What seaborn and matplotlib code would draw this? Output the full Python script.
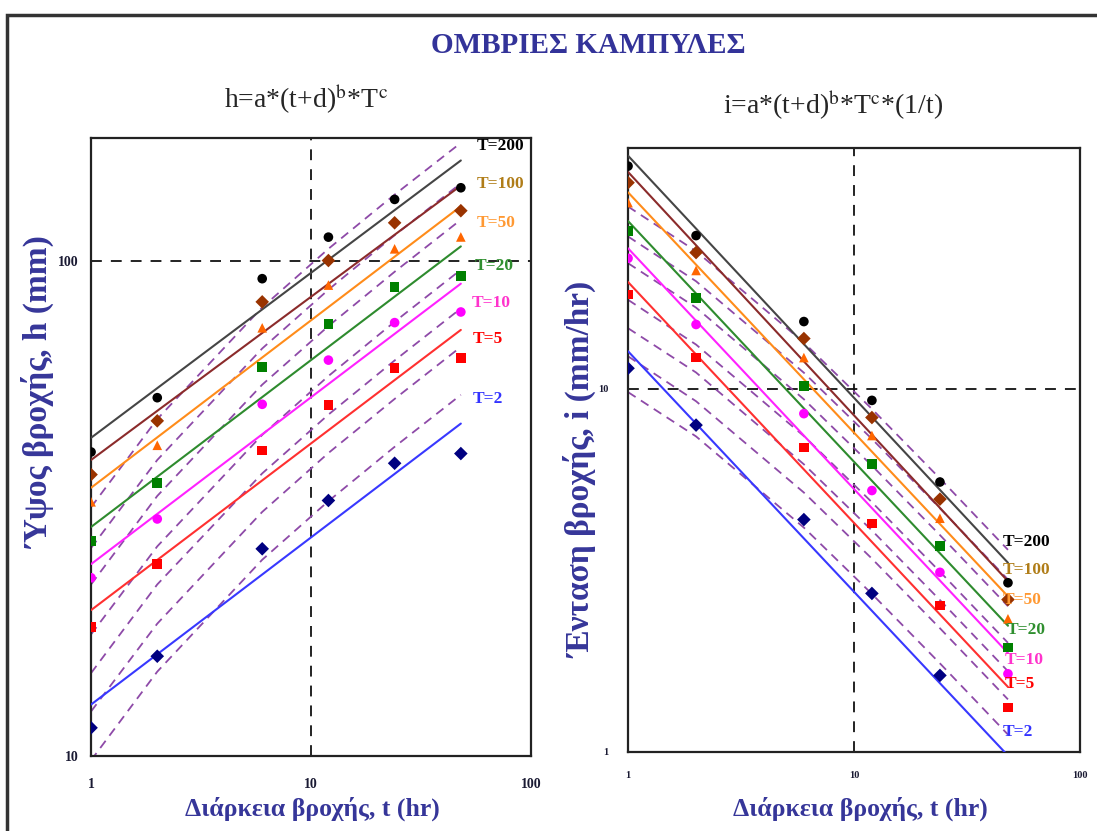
import pandas as pd
import seaborn as sns
import matplotlib.pyplot as plt
from matplotlib.ticker import NullLocator
from matplotlib.patches import Rectangle

durations = [1, 2, 6, 12, 24, 48]
fit_t = [1, 48]
periods = ["T=200", "T=100", "T=50", "T=20", "T=10", "T=5", "T=2"]

# measured rainfall depth h (mm) at each duration
h_T200 = [41.1, 52.9, 92.0, 111.6, 133.0, 140.4]
h_T100 = [37.0, 47.5, 82.6, 100.1, 119.3, 126.2]
h_T50 = [32.6, 42.4, 73.2, 89.3, 105.7, 111.7]
h_T20 = [27.2, 35.6, 61.1, 74.6, 88.6, 93.1]
h_T10 = [22.9, 30.1, 51.3, 63.0, 75.0, 78.8]
h_T5 = [18.2, 24.4, 41.4, 51.1, 60.7, 63.6]
h_T2 = [11.4, 15.9, 26.2, 32.8, 39.0, 40.8]

# fitted straight lines, h at t=1 and t=48
fit_T200 = [43.9, 159.4]
fit_T100 = [39.6, 141.8]
fit_T50 = [34.8, 128.8]
fit_T20 = [29.0, 106.9]
fit_T10 = [24.4, 89.9]
fit_T5 = [19.7, 72.5]
fit_T2 = [12.7, 46.9]

# dashed curves, h at each duration
dash_T200 = [31.8, 47.9, 80.5, 105.7, 136.0, 173.0]
dash_T100 = [26.3, 39.6, 66.5, 87.4, 112.6, 143.3]
dash_T50 = [22.2, 33.5, 56.2, 73.8, 95.0, 121.0]
dash_T20 = [17.6, 26.5, 44.5, 58.5, 75.3, 95.9]
dash_T10 = [14.7, 22.2, 37.2, 48.9, 62.9, 80.1]
dash_T5 = [12.3, 18.5, 31.1, 40.9, 52.6, 67.0]
dash_T2 = [9.8, 14.8, 24.9, 32.7, 42.1, 53.6]

obs_lists = [h_T200, h_T100, h_T50, h_T20, h_T10, h_T5, h_T2]
fit_lists = [fit_T200, fit_T100, fit_T50, fit_T20, fit_T10, fit_T5, fit_T2]
dash_lists = [dash_T200, dash_T100, dash_T50, dash_T20, dash_T10, dash_T5, dash_T2]


def long_table(ts, lists):
    rows = [(p, t, h) for p, vals in zip(periods, lists) for t, h in zip(ts, vals)]
    df = pd.DataFrame(rows, columns=["T", "t", "h"])
    df["i"] = df["h"] / df["t"]   # intensity = depth / duration
    return df


obs = long_table(durations, obs_lists)
fit = long_table(fit_t, fit_lists)
dash = long_table(durations, dash_lists)

point_colors = dict(zip(periods, ["#000000", "#993300", "#FF6600", "#008000",
                                  "#FF00FF", "#FF0000", "#000080"]))
point_markers = dict(zip(periods, ["o", "D", "^", "s", "o", "s", "D"]))
line_colors = dict(zip(periods, ["#454545", "#8B2B2B", "#FF8C1A", "#2E8B2E",
                                 "#FF22FF", "#FF3030", "#3838FF"]))
label_colors = ["#000000", "#B07D18", "#FF9933", "#2F8F2F", "#FF33CC", "#FF0000", "#3333FF"]
dash_color = "#8E4AA8"
blue = "#363699"

sns.set_style("white")
plt.rcParams["font.family"] = ["Liberation Serif", "DejaVu Serif"]
plt.rcParams["mathtext.fontset"] = "stix"

fig = plt.figure(figsize=(10.97, 8.31), dpi=100)
ax1 = fig.add_axes([0.083, 0.0903, 0.401, 0.7437])
ax2 = fig.add_axes([0.5725, 0.0951, 0.412, 0.7268])


def draw_panel(ax, ycol, ylim, yticks, ref_y, tick_size, xpad, ypad):
    ax.set(xscale="log", yscale="log")
    ax.axvline(10, color="#111111", lw=1.3, ls=(0, (6, 5)), zorder=1)
    ax.axhline(ref_y, color="#111111", lw=1.3, ls=(0, (6, 5)), zorder=1)
    sns.lineplot(data=dash, x="t", y=ycol, units="T", estimator=None, color=dash_color,
                 lw=1.3, linestyle=(0, (5, 3.5)), ax=ax, zorder=2)
    sns.lineplot(data=fit, x="t", y=ycol, hue="T", palette=line_colors, estimator=None,
                 lw=1.5, legend=False, ax=ax, zorder=3)
    sns.scatterplot(data=obs, x="t", y=ycol, hue="T", style="T", palette=point_colors,
                    markers=point_markers, s=48, linewidth=0, legend=False, ax=ax, zorder=5)
    ax.set_xlim(1, 100)
    ax.set_ylim(*ylim)
    ax.set_xticks([1, 10, 100], ["1", "10", "100"])
    ax.set_yticks(yticks, [str(v) for v in yticks])
    ax.xaxis.set_minor_locator(NullLocator())
    ax.yaxis.set_minor_locator(NullLocator())
    ax.tick_params(axis="x", length=4, width=1, pad=xpad, labelsize=tick_size, colors="#1a1a33")
    ax.tick_params(axis="y", length=4, width=1, pad=ypad, labelsize=tick_size, colors="#1a1a33")
    for lab in ax.get_xticklabels() + ax.get_yticklabels():
        lab.set_fontweight("bold")
    for sp in ax.spines.values():
        sp.set_linewidth(1.6)
        sp.set_color("#222222")
    ax.set_xlabel("Διάρκεια βροχής, t (hr)", fontsize=18.5, fontweight="bold", color=blue)


draw_panel(ax1, "h", (10, 177), [10, 100], 100, 10, 12, 5)
draw_panel(ax2, "i", (1, 46.1), [1, 10], 10, 7.5, 10, 10)

ax1.set_ylabel("Ύψος βροχής, h (mm)", fontsize=24, fontweight="bold", color=blue)
ax2.set_ylabel("Ένταση βροχής, i (mm/hr)", fontsize=24, fontweight="bold", color=blue)
ax1.yaxis.set_label_coords(-0.082, 0.59)
ax2.yaxis.set_label_coords(-0.068, 0.467)
ax1.xaxis.set_label_coords(0.502, -0.066)
ax2.xaxis.set_label_coords(0.513, -0.074)

# T labels beside the curves
left_pos = [(0.877, 0.987), (0.877, 0.926), (0.877, 0.863), (0.873, 0.792),
            (0.865, 0.733), (0.868, 0.674), (0.868, 0.578)]
right_pos = [(0.830, 0.348), (0.830, 0.302), (0.830, 0.252), (0.838, 0.202),
             (0.834, 0.153), (0.834, 0.113), (0.830, 0.033)]
for p, c, (x, y) in zip(periods, label_colors, left_pos):
    ax1.text(x, y, p, transform=ax1.transAxes, color=c, fontsize=12.5,
             fontweight="bold", va="center", ha="left", zorder=6)
for p, c, (x, y) in zip(periods, label_colors, right_pos):
    ax2.text(x, y, p, transform=ax2.transAxes, color=c, fontsize=12.5,
             fontweight="bold", va="center", ha="left", zorder=6)

fig.text(0.536, 0.945, "ΟΜΒΡΙΕΣ ΚΑΜΠΥΛΕΣ", ha="center", va="center",
         fontsize=21, fontweight="bold", color="#333399")
fig.text(0.279, 0.880, r"h=a*(t+d)$^{\mathrm{b}}$*T$^{\mathrm{c}}$", ha="center",
         va="center", fontsize=20)
fig.text(0.759, 0.873, r"i=a*(t+d)$^{\mathrm{b}}$*T$^{\mathrm{c}}$*(1/t)", ha="center",
         va="center", fontsize=20)

# outer frame of the sheet
fig.patches.append(Rectangle((0.0064, -0.05), 1.1, 1.032, transform=fig.transFigure,
                             fill=False, lw=2.5, ec="#333333"))

fig.savefig("out.png", dpi=100)
